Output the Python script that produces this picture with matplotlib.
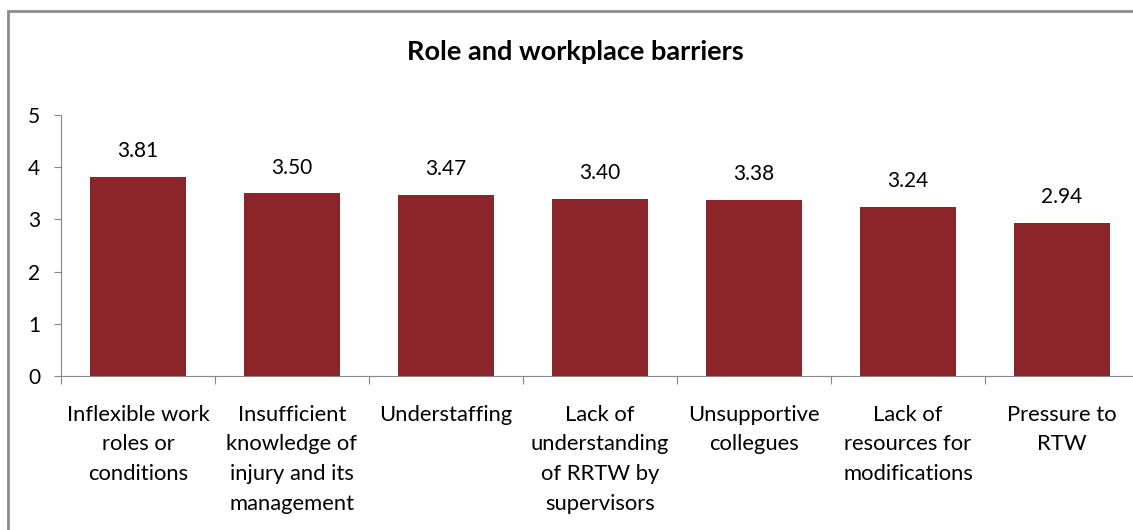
import numpy as np
import matplotlib.pyplot as plt
from matplotlib.patches import Rectangle

categories = [
    "Inflexible work\nroles or\nconditions",
    "Insufficient\nknowledge of\ninjury and its\nmanagement",
    "Understaffing",
    "Lack of\nunderstanding\nof RRTW by\nsupervisors",
    "Unsupportive\ncollegues",
    "Lack of\nresources for\nmodifications",
    "Pressure to\nRTW",
]
scores = [3.81, 3.50, 3.47, 3.40, 3.38, 3.24, 2.94]

plt.rcParams['font.family'] = ['Lato', 'DejaVu Sans']

fig = plt.figure(figsize=(11.33, 5.30), dpi=100)

# outer chart frame (Excel style), cut off on the right
fig.patches.append(Rectangle((8 / 1133, -0.1), 1.2, (530 - 11) / 530 + 0.1,
                             transform=fig.transFigure, fill=False,
                             edgecolor='#8c8c8c', linewidth=2))

ax = fig.add_axes([61 / 1133, 1 - 376 / 530, 1078 / 1133, 261 / 530])
x = np.arange(len(categories))
bars = ax.bar(x, scores, width=0.62, color='#8b252a')

for xi, v in zip(x, scores):
    ax.text(xi, v + 0.3, f"{v:.2f}", ha='center', va='bottom', fontsize=15)

ax.set_xlim(-0.5, len(categories) - 0.5)
ax.set_ylim(0, 5)
ax.set_yticks(range(6))
ax.tick_params(axis='y', labelsize=15, length=5, color='#868686', pad=10)

# category labels below, ticks at category boundaries
ax.set_xticks(np.arange(len(categories) + 1) - 0.5)
ax.set_xticklabels([])
ax.tick_params(axis='x', length=6, color='#868686')
for xi, lab in zip(x, categories):
    ax.text(xi, -0.55, lab, ha='center', va='top', fontsize=15.8,
            linespacing=1.6)

for side in ['top', 'right']:
    ax.spines[side].set_visible(False)
for side in ['left', 'bottom']:
    ax.spines[side].set_color('#868686')

fig.text(575 / 1133, 1 - 52 / 530, "Role and workplace barriers",
         ha='center', va='center', fontsize=19.5, fontweight='bold')

fig.savefig('out.png', dpi=100)
